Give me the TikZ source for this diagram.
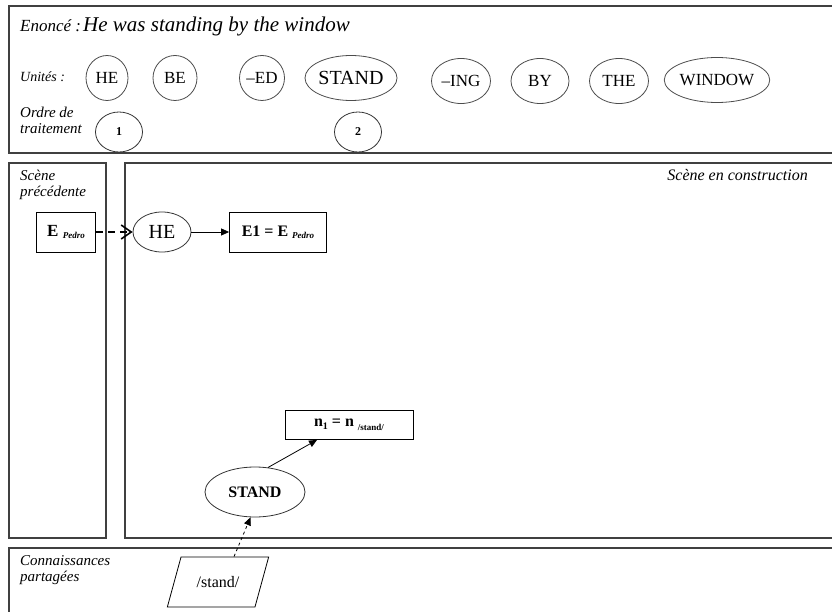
\documentclass[tikz,border=0pt]{standalone}
\usepackage{fontspec}
\setmainfont{Liberation Serif}
\usetikzlibrary{arrows.meta,shapes.geometric}

\newcommand{\fsz}[1]{\fontsize{#1}{#1}\selectfont}

\tikzset{
  frame/.style={draw=black!75, line width=1.3pt},
  unit/.style={ellipse, draw=black!70, line width=0.8pt, inner sep=0pt,
    minimum height=45pt, font=\fsz{17}},
  order/.style={ellipse, draw=black!80, line width=0.8pt, inner sep=0pt,
    minimum width=47pt, minimum height=40pt, font=\fsz{12}\bfseries},
  box/.style={draw, line width=0.8pt, inner sep=0pt},
  lbl/.style={anchor=base west, inner sep=0pt, font=\fontsize{15}{16}\itshape, align=left},
  solid arrow/.style={-{Triangle[length=8pt,width=7pt]}, line width=0.8pt},
}

\begin{document}
\begin{tikzpicture}[x=1pt, y=-1pt]
  \useasboundingbox (0,0) rectangle (832,612);
  \clip (0,0) rectangle (832,612);

  % frames
  \draw[frame] (9,6) rectangle (845,153);
  \draw[frame] (9,163) rectangle (106,538);
  \draw[frame] (125,163) rectangle (845,538);
  \draw[frame] (9,548) rectangle (845,625);

  % enonce
  \node (enonce) [lbl, font=\fsz{17}\itshape] at (20,32) {Enoncé :};
  \node (phrase) [lbl, font=\fsz{21}\itshape] at (83,32) {He was standing by the window};

  % unites
  \node (unites) [lbl, font=\fsz{14}\itshape] at (20,82) {Unités :};
  \node (u1) [unit, minimum width=42pt] at (107,78) {HE};
  \node (u2) [unit, minimum width=44pt] at (175,78) {BE};
  \node (u3) [unit, minimum width=45pt] at (262,78) {--ED};
  \node (u4) [unit, minimum width=75pt, font=\fsz{20}] at (351,78) {STAND};
  \node (u5) [unit, minimum width=59pt] at (461,81) {--ING};
  \node (u6) [unit, minimum width=58pt] at (540,81) {BY};
  \node (u7) [unit, minimum width=59pt] at (619,81) {THE};
  \node (u8) [unit, minimum width=99pt] at (717,80) {WINDOW};

  % ordre
  \node (ordre) [lbl] at (20,134) {Ordre de\\traitement};
  \node (o1) [order] at (119,132) {1};
  \node (o2) [order] at (358,132) {2};

  % scenes
  \node (prec) [lbl] at (20,197) {Scène\\précédente};
  \node (constr) [lbl, anchor=base east, font=\fsz{16}\itshape] at (808,181) {Scène en construction};
  \node (conn) [lbl] at (20,581) {Connaissances\\partagées};

  \node (epedro) [box, minimum width=59pt, minimum height=40pt] at (66,232)
    {\fsz{17}\textbf{E} \raisebox{-0.3ex}{\fsz{9}\bfseries\itshape Pedro}};
  \node (he) [unit, draw=black!80, minimum width=58pt, minimum height=40pt,
    font=\fsz{20}] at (162,232) {HE};
  \node (e1) [box, minimum width=97pt, minimum height=40pt] at (278,232)
    {\fsz{16}\textbf{E1 = E} \raisebox{-0.3ex}{\fsz{9}\bfseries\itshape Pedro}};

  \node (n1) [box, minimum width=128pt, minimum height=29pt] at (349,425)
    {\fsz{16}\bfseries n\raisebox{-0.4ex}{\fsz{10}1} = n \raisebox{-0.5ex}{\fsz{9}/stand/}};
  \node (stand) [unit, draw=black!80, minimum width=100pt, minimum height=50pt,
    font=\fsz{16}\bfseries] at (255,492) {STAND};
  \node (lex) [trapezium, trapezium stretches=true, draw, line width=0.8pt,
    trapezium left angle=63, trapezium right angle=117,
    minimum width=102pt, minimum height=50pt, font=\fsz{16}] at (218,582) {/stand/};
  \coordinate (lextop) at ([xshift=16pt]lex.north);

  \draw[-{Straight Barb[length=10pt,width=14pt]}, line width=1.6pt,
    dash pattern=on 7pt off 5pt] (epedro) -- (he);
  \path[solid arrow] (he) edge (e1)
            (stand.62) edge (n1.205);
  \draw[solid arrow, dashed] (lextop) -- (stand.260);
\end{tikzpicture}
\end{document}
